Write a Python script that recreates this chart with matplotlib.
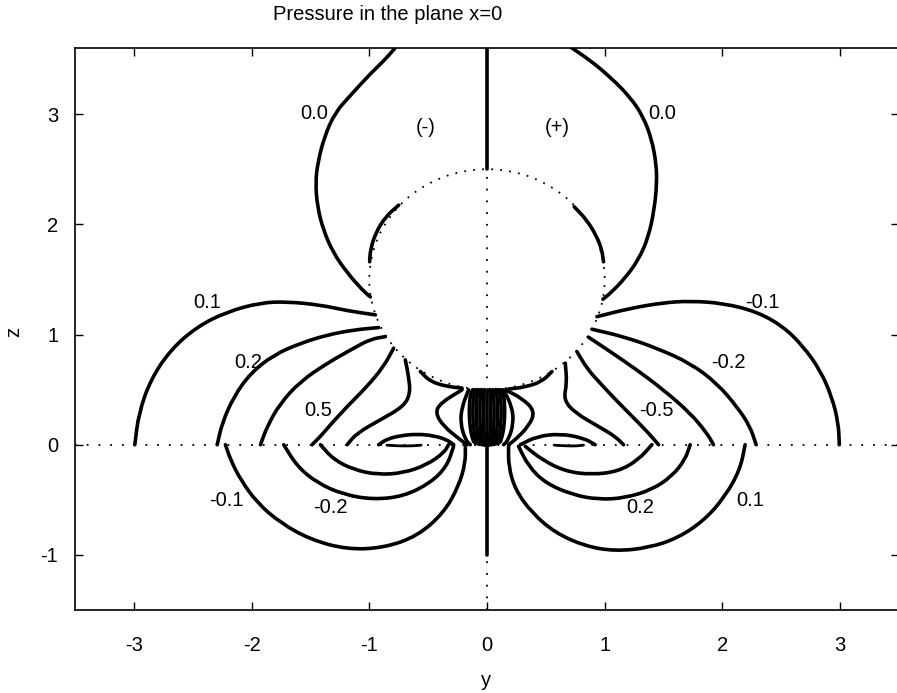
import numpy as np
import matplotlib.pyplot as plt
from matplotlib.patches import Circle, PathPatch
from matplotlib.path import Path

plt.rcParams['font.family'] = ['Liberation Sans', 'DejaVu Sans']
plt.rcParams['axes.unicode_minus'] = False

# pressure isolines in the plane x=0, traced as (y, z) points
# upper half, left side (positive values)
p00_left = [(-0.764, 3.62), (-0.87, 3.49), (-0.991, 3.367), (-1.160, 3.170), (-1.290, 3.015),
            (-1.380, 2.800), (-1.438, 2.560), (-1.457, 2.373), (-1.440, 2.156), (-1.390, 1.947),
            (-1.305, 1.739), (-1.186, 1.558), (-1.059, 1.404), (-0.991, 1.341)]
p00_right = [(0.693, 3.62), (0.877, 3.488), (1.047, 3.336), (1.216, 3.155), (1.329, 2.974),
             (1.401, 2.763), (1.437, 2.552), (1.443, 2.370), (1.420, 2.129), (1.372, 1.887),
             (1.287, 1.676), (1.160, 1.495), (1.047, 1.374), (0.985, 1.320)]
arc_left = [(-0.750, 2.174), (-0.863, 2.068), (-0.948, 1.918), (-0.991, 1.766), (-0.997, 1.660)]
arc_right = [(0.741, 2.159), (0.849, 2.038), (0.934, 1.887), (0.976, 1.766), (0.990, 1.660)]

p01_upper = [(-2.992, 0.0), (-2.958, 0.287), (-2.858, 0.589), (-2.689, 0.861), (-2.462, 1.072),
             (-2.207, 1.207), (-1.924, 1.289), (-1.698, 1.298), (-1.415, 1.268), (-1.188, 1.216),
             (-0.948, 1.178)]
m01_upper = [(0.934, 1.162), (1.217, 1.238), (1.499, 1.289), (1.726, 1.304), (2.008, 1.284),
             (2.292, 1.207), (2.518, 1.072), (2.688, 0.890), (2.829, 0.679), (2.929, 0.437),
             (2.985, 0.197), (2.993, 0.0)]
p02_upper = [(-2.292, 0.0), (-2.250, 0.197), (-2.151, 0.437), (-2.009, 0.649), (-1.812, 0.815),
             (-1.585, 0.921), (-1.358, 0.996), (-1.132, 1.042), (-0.920, 1.063)]
m02_upper = [(0.891, 1.048), (1.160, 0.981), (1.443, 0.876), (1.726, 0.740), (1.952, 0.559),
             (2.122, 0.347), (2.235, 0.166), (2.286, 0.0)]
p03_upper = [(-1.924, 0.0), (-1.868, 0.166), (-1.755, 0.378), (-1.585, 0.574), (-1.358, 0.740),
             (-1.132, 0.876), (-0.991, 0.957), (-0.863, 0.981)]
m03_upper = [(0.862, 0.976), (1.047, 0.845), (1.273, 0.679), (1.499, 0.498), (1.726, 0.287),
             (1.868, 0.106), (1.924, 0.0)]
p05_upper = [(-0.793, 0.876), (-0.878, 0.709), (-1.019, 0.528), (-1.188, 0.347), (-1.330, 0.181),
             (-1.415, 0.075), (-1.486, 0.0)]
m05_upper = [(0.764, 0.845), (0.850, 0.690), (0.960, 0.560), (1.100, 0.400), (1.240, 0.250),
             (1.372, 0.106), (1.457, 0.0)]
kink_left = [(-0.694, 0.770), (-0.666, 0.619), (-0.651, 0.468), (-0.708, 0.347), (-0.906, 0.226),
             (-1.104, 0.106), (-1.188, 0.0)]
kink_right = [(0.665, 0.740), (0.679, 0.559), (0.650, 0.408), (0.750, 0.287), (0.947, 0.166),
              (1.089, 0.075), (1.160, 0.0)]
cap_left = [(-0.566, 0.664), (-0.481, 0.573), (-0.340, 0.528), (-0.212, 0.514)]
cap_right = [(0.552, 0.664), (0.467, 0.573), (0.325, 0.523), (0.183, 0.505)]
bracket_out_left = [(-0.212, 0.498), (-0.396, 0.378), (-0.439, 0.287), (-0.368, 0.166),
                    (-0.227, 0.045), (-0.170, 0.0)]
bracket_out_right = [(0.155, 0.498), (0.300, 0.420), (0.410, 0.302), (0.353, 0.166),
                     (0.240, 0.045), (0.183, 0.0)]
bracket_in_left = [(-0.156, 0.498), (-0.212, 0.347), (-0.227, 0.197), (-0.184, 0.045), (-0.142, 0.0)]
bracket_in_right = [(0.141, 0.498), (0.212, 0.347), (0.226, 0.197), (0.183, 0.045), (0.141, 0.0)]
lobe_left = [(-0.920, 0.0), (-0.849, 0.052), (-0.736, 0.082), (-0.594, 0.097), (-0.453, 0.082),
             (-0.340, 0.045), (-0.283, 0.0)]
lobe_right = [(0.283, 0.0), (0.424, 0.075), (0.622, 0.100), (0.820, 0.061), (0.919, 0.0)]
dash_left = [(-0.85, -0.004), (-0.74, -0.012), (-0.62, -0.010), (-0.56, -0.004)]
dash_right = [(0.57, -0.004), (0.66, -0.010), (0.76, -0.012), (0.82, -0.004)]

# lower half (signs swap)
m01_lower = [(-2.222, 0.0), (-2.179, -0.136), (-2.094, -0.317), (-1.952, -0.528), (-1.755, -0.709),
             (-1.500, -0.861), (-1.188, -0.951), (-0.878, -0.936), (-0.594, -0.831),
             (-0.368, -0.619), (-0.241, -0.378), (-0.184, -0.166), (-0.184, -0.015)]
m02_lower = [(-1.727, 0.0), (-1.613, -0.196), (-1.443, -0.347), (-1.217, -0.453), (-0.963, -0.498),
             (-0.708, -0.468), (-0.481, -0.347), (-0.340, -0.196), (-0.284, -0.015)]
m03_lower = [(-1.415, 0.0), (-1.302, -0.136), (-1.132, -0.226), (-0.934, -0.272), (-0.708, -0.257),
             (-0.509, -0.181), (-0.368, -0.075), (-0.326, 0.0)]
p01_lower = [(0.183, -0.015), (0.183, -0.196), (0.240, -0.409), (0.382, -0.619), (0.580, -0.800),
             (0.834, -0.921), (1.089, -0.966), (1.372, -0.936), (1.626, -0.845), (1.853, -0.679),
             (2.023, -0.468), (2.150, -0.226), (2.193, 0.0)]
p02_lower = [(0.268, -0.015), (0.353, -0.196), (0.495, -0.347), (0.722, -0.453), (0.947, -0.498),
             (1.174, -0.483), (1.401, -0.408), (1.570, -0.287), (1.683, -0.136), (1.726, 0.0)]
p03_lower = [(0.325, -0.015), (0.467, -0.136), (0.665, -0.242), (0.891, -0.272), (1.117, -0.242),
             (1.287, -0.136), (1.401, 0.0)]

# dense isolines just under the sphere: outline profile and nested widths
core_z = [0.50, 0.45, 0.35, 0.25, 0.15, 0.07, 0.0]
core_frac = [0.80, 0.95, 1.0, 1.0, 0.95, 0.85, 0.70]
core_width = [0.15, 0.12, 0.09, 0.06, 0.03]

# nodal line on the symmetry axis
axis_top = [(0.0, 2.5), (0.0, 3.62)]
axis_bottom = [(0.0, 0.0), (0.0, -1.0)]

label_text = ['0.0', '0.0', '(-)', '(+)', '0.1', '-0.1', '0.2', '-0.2', '0.5', '-0.5',
              '-0.1', '-0.2', '0.2', '0.1']
label_y = [-1.47, 1.49, -0.52, 0.60, -2.38, 2.34, -2.03, 2.05, -1.43, 1.44,
           -2.21, -1.33, 1.30, 2.24]
label_z = [3.01, 3.01, 2.88, 2.88, 1.29, 1.29, 0.75, 0.75, 0.31, 0.31,
           -0.51, -0.57, -0.57, -0.51]


def smooth(pts):
    # quadratic bezier through segment midpoints, read points act as controls
    pts = np.asarray(pts, dtype=float)
    if len(pts) < 3:
        return Path(pts)
    mids = (pts[:-1] + pts[1:]) / 2
    verts = [pts[0], mids[0]]
    codes = [Path.MOVETO, Path.LINETO]
    for i in range(1, len(pts) - 1):
        verts += [pts[i], mids[i]]
        codes += [Path.CURVE3, Path.CURVE3]
    verts.append(pts[-1])
    codes.append(Path.LINETO)
    return Path(verts, codes)


def draw(ax, pts, lw=2.6):
    ax.add_patch(PathPatch(smooth(pts), fill=False, edgecolor='black', lw=lw,
                           capstyle='round', joinstyle='round'))


fig = plt.figure(figsize=(8.97, 6.93), dpi=100)
ax = fig.add_axes([75 / 897, 83 / 693, 824 / 897, 562 / 693])

curves = [p00_left, p00_right, arc_left, arc_right, p01_upper, m01_upper, p02_upper, m02_upper,
          p03_upper, m03_upper, p05_upper, m05_upper, kink_left, kink_right, cap_left, cap_right,
          bracket_out_left, bracket_out_right, bracket_in_left, bracket_in_right,
          lobe_left, lobe_right, m01_lower, m02_lower, m03_lower, p01_lower, p02_lower,
          p03_lower, axis_top, axis_bottom]
for c in curves:
    draw(ax, c)
for c in [dash_left, dash_right]:
    draw(ax, c, lw=2.0)

# nested closed loops of the core
zz = np.array(core_z)
ff = np.array(core_frac)
for w in core_width:
    ys = np.concatenate([-w * ff, (w * ff)[::-1]])
    zs = np.concatenate([zz, zz[::-1]])
    draw(ax, list(zip(ys, zs)))
ax.plot([0, 0], [0.02, 0.48], color='black', lw=2.6)

# sphere outline and symmetry lines, dotted
ax.add_patch(Circle((0, 1.5), 1.0, fill=False, color='black', lw=1.3, linestyle=(0, (1, 4))))
ax.plot([-3.5, 3.5], [0, 0], color='black', lw=1.3, linestyle=(0, (1, 5.5)))
ax.plot([0, 0], [0.5, 2.5], color='black', lw=1.3, linestyle=(0, (1, 5.5)))
ax.plot([0, 0], [-1.5, -1.0], color='black', lw=1.3, linestyle=(0, (1, 5.5)))

for t, y, z in zip(label_text, label_y, label_z):
    ax.text(y, z, t, fontsize=14.5, ha='center', va='center')

ax.set_xlim(-3.5, 3.5)
ax.set_ylim(-1.5, 3.6)
ax.set_xticks([-3, -2, -1, 0, 1, 2, 3])
ax.set_yticks([-1, 0, 1, 2, 3])
ax.tick_params(direction='in', length=6, width=1, top=True, right=True, labelsize=14.5)
ax.tick_params(axis='x', pad=19)
ax.tick_params(axis='y', pad=12)
for s in ax.spines.values():
    s.set_linewidth(1.2)

fig.text(388 / 897, 1 - 14 / 693, 'Pressure in the plane x=0', fontsize=14.5,
         ha='center', va='center')
fig.text(486 / 897, 1 - 680 / 693, 'y', fontsize=14.5, ha='center', va='center')
fig.text(14 / 897, 1 - 332 / 693, 'z', fontsize=14.5, ha='center', va='center', rotation=90)

fig.savefig('out.png', dpi=100)
